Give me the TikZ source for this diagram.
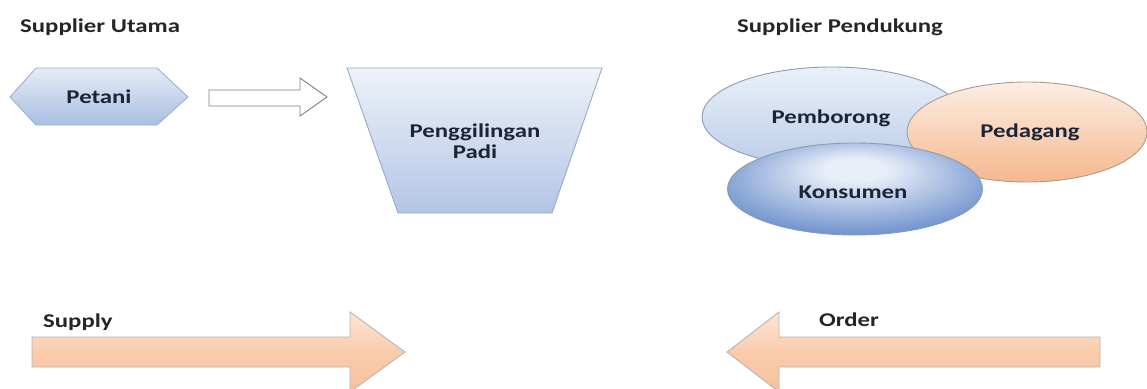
\documentclass[tikz,border=0pt]{standalone}
\usepackage{fontspec}
\setmainfont{Carlito}[FakeStretch=1.27]
\usetikzlibrary{shapes.geometric}
\definecolor{hexTop}{HTML}{E6ECF6}
\definecolor{hexBot}{HTML}{A9BFE2}
\definecolor{hexLine}{HTML}{9DB0D0}
\definecolor{trapTop}{HTML}{EEF2F9}
\definecolor{trapBot}{HTML}{B3C5E5}
\definecolor{trapLine}{HTML}{98A9C8}
\definecolor{pembTop}{HTML}{EAF0F8}
\definecolor{pembBot}{HTML}{BCCDE9}
\definecolor{pembLine}{HTML}{8E9CB0}
\definecolor{pedTop}{HTML}{FDEEE4}
\definecolor{pedBot}{HTML}{F5B88E}
\definecolor{pedLine}{HTML}{A89B92}
\definecolor{konsIn}{HTML}{E9EFF9}
\definecolor{konsOut}{HTML}{4672BD}
\definecolor{konsLine}{HTML}{8A9AB5}
\definecolor{arrTop}{HTML}{FDE5D6}
\definecolor{arrMid}{HTML}{F9CCAC}
\definecolor{arrBot}{HTML}{F7C29E}
\definecolor{arrLine}{HTML}{B5B5B5}
\definecolor{txtDark}{HTML}{1C2536}
\pgfdeclareradialshading{konsshade}{\pgfpoint{0bp}{12bp}}{color(0bp)=(konsIn); color(6bp)=(konsIn); color(38bp)=(konsOut); color(50bp)=(konsOut)}
\tikzset{
  lbl/.style={font=\fontsize{19.5}{21.5}\selectfont\bfseries, text=txtDark, inner sep=0pt},
  title/.style={font=\fontsize{19.5}{21.5}\selectfont\bfseries, text=black!85, inner sep=0pt, anchor=west},
  bigarrow/.style={draw=arrLine, line width=0.9pt, top color=arrTop, bottom color=arrBot, middle color=arrMid},
  blob/.style={ellipse, inner sep=0pt, line width=0.9pt},
}
\begin{document}
\begin{tikzpicture}[x=1pt,y=-1pt]
\useasboundingbox (0,0) rectangle (1147,388);
\clip (0,0) rectangle (1147,388);
\fill[white] (0,0) rectangle (1147,388);
% titles
\node[title] (tu) at (20,27) {Supplier Utama};
\node[title] (tp) at (737,27) {Supplier Pendukung};
% Petani hexagon
\path[draw=hexLine, line width=0.9pt, top color=hexTop, bottom color=hexBot]
  (10,97) -- (36,68) -- (157,68) -- (188,97) -- (157,125) -- (36,125) -- cycle;
\node[lbl] (petani) at (99,97) {Petani};
% hollow arrow
\path[draw=black!50, line width=0.9pt, fill=white]
  (209,90) -- (300,90) -- (300,78) -- (327,97) -- (300,116) -- (300,106) -- (209,106) -- cycle;
% trapezoid
\path[draw=trapLine, line width=0.9pt, top color=trapTop, bottom color=trapBot]
  (347,68) -- (602,68) -- (552,213) -- (398,213) -- cycle;
\node[lbl, align=center] (padi) at (475,141) {Penggilingan\\Padi};
% ellipses
\node[blob, draw=pembLine, top color=pembTop, bottom color=pembBot, minimum width=260, minimum height=100] (pemb) at (832,117) {};
\node[lbl] (pembt) at (831,118) {Pemborong};
\node[blob, draw=pedLine, top color=pedTop, bottom color=pedBot, minimum width=240, minimum height=100] (ped) at (1027,132) {};
\node[lbl] (pedt) at (1030,132) {Pedagang};
\node[blob, draw=konsLine, shading=konsshade, minimum width=255, minimum height=92] (kons) at (855,189) {};
\node[lbl] (konst) at (853,192) {Konsumen};
% big arrows
\path[bigarrow] (32,337) -- (350,337) -- (350,312) -- (405,352) -- (350,392) -- (350,367) -- (32,367) -- cycle;
\node[title] (sup) at (43,322) {Supply};
\path[bigarrow] (1100,337) -- (779,337) -- (779,312) -- (727,352) -- (779,392) -- (779,367) -- (1100,367) -- cycle;
\node[title] (ord) at (819,320) {Order};
\end{tikzpicture}
\end{document}
